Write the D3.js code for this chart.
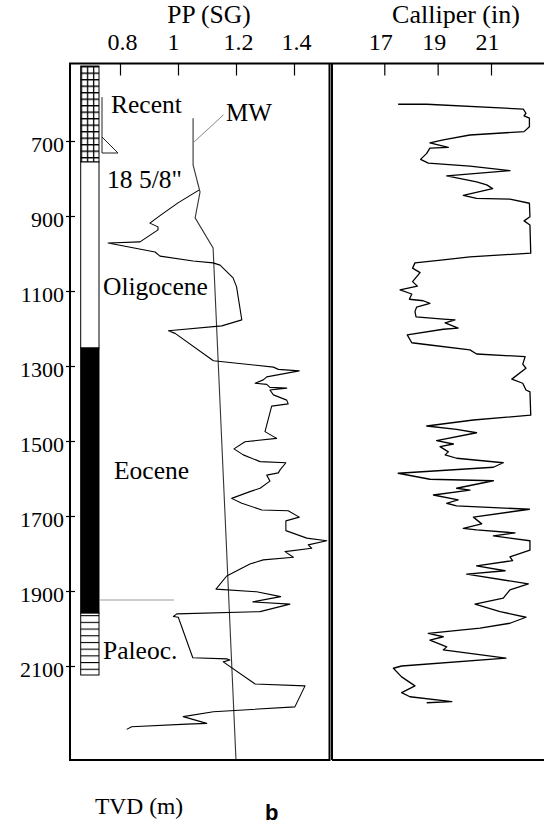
<!DOCTYPE html>
<html>
<head>
<meta charset="utf-8">
<script src="https://cdn.jsdelivr.net/npm/d3@7"></script>
<style>body{margin:0;background:#fff;}</style>
</head>
<body>
<div id="chart"></div>
<script>
// depth in m (TVD), pore pressure / mud weight in SG, calliper in inches
const depthTicks = [700, 900, 1100, 1300, 1500, 1700, 1900, 2100];
const ppTicks = [0.8, 1, 1.2, 1.4];
const calTicks = [17, 19, 21];

const formations = [
    {name: "Recent", top: 500, base: 756, lith: "grid"},
    {name: "Oligocene", top: 756, base: 1252, lith: "white"},
    {name: "Eocene", top: 1252, base: 1959, lith: "black"},
    {name: "Paleoc.", top: 1959, base: 2124, lith: "stripes"}
];

const casing = {size: "18 5/8\"", top: 583, shoe: 732};
const markerDepth = 1924;

const mudWeight = [[639,1.052],[764,1.052],[836,1.076],[905,1.059],[985,1.121],[2351,1.2]];

const porePressure = [
    [831,1.072],[865,1.000],[895,0.945],[919,0.903],[929,0.931],[937,0.931],[969,0.869],[972,0.759],
    [996,0.921],[1007,0.938],[1020,1.052],[1025,1.121],[1031,1.145],[1065,1.190],[1089,1.202],[1177,1.220],
    [1193,1.151],[1206,0.967],[1213,0.990],[1286,1.122],[1303,1.329],[1309,1.346],[1313,1.418],[1329,1.306],
    [1337,1.294],[1346,1.266],[1349,1.306],[1357,1.317],[1359,1.375],[1364,1.317],[1377,1.329],[1391,1.375],
    [1401,1.380],[1407,1.323],[1475,1.300],[1493,1.340],[1502,1.231],[1521,1.193],[1537,1.225],[1555,1.283],
    [1558,1.372],[1577,1.352],[1585,1.346],[1591,1.306],[1607,1.317],[1626,1.283],[1635,1.248],[1653,1.185],
    [1666,1.220],[1684,1.289],[1686,1.380],[1703,1.418],[1713,1.372],[1739,1.372],[1759,1.444],[1766,1.513],
    [1777,1.449],[1786,1.461],[1795,1.369],[1810,1.398],[1817,1.294],[1828,1.248],[1860,1.168],[1895,1.131],
    [1902,1.271],[1915,1.354],[1929,1.258],[1935,1.386],[1955,1.283],[1961,0.996],[1968,0.984],[1970,1.001],
    [2078,1.051],[2081,1.168],[2084,1.179],[2089,1.156],[2148,1.266],[2153,1.438],[2209,1.403],[2222,1.122],
    [2235,1.018],[2253,1.099],[2255,1.030],[2262,0.840],[2269,0.823]
];

const calliper = [
    [602,17.52],[602,18.59],[615,22.21],[626,22.31],[633,22.24],[639,22.44],[662,22.44],[675,22.24],
    [684,20.21],[697,19.21],[705,18.71],[717,19.40],[719,18.71],[733,18.59],[749,18.36],[759,18.65],
    [767,20.21],[779,21.71],[793,19.34],[809,20.46],[817,20.84],[827,21.06],[845,19.96],[853,20.46],
    [855,21.71],[866,22.44],[902,22.46],[913,22.24],[924,22.46],[999,22.49],[1009,20.21],[1017,19.21],
    [1025,18.15],[1039,18.06],[1051,18.34],[1075,18.06],[1087,18.24],[1097,17.59],[1108,18.03],[1122,17.94],
    [1126,18.46],[1133,18.71],[1143,18.21],[1155,18.15],[1169,18.19],[1175,19.21],[1177,19.65],[1185,19.28],
    [1199,19.77],[1202,19.21],[1217,17.86],[1238,18.03],[1244,18.71],[1257,20.21],[1268,20.46],[1275,22.28],
    [1295,22.19],[1306,22.31],[1335,21.78],[1346,22.19],[1364,22.31],[1369,22.46],[1431,22.49],[1444,20.34],
    [1460,18.59],[1469,19.71],[1478,20.46],[1499,18.96],[1508,19.59],[1515,19.09],[1529,19.40],[1537,19.28],
    [1546,19.71],[1558,21.46],[1570,21.09],[1586,17.52],[1602,18.71],[1606,21.09],[1626,19.71],[1631,20.21],
    [1644,18.84],[1657,19.77],[1666,19.34],[1673,19.71],[1682,22.44],[1703,20.34],[1721,20.65],[1733,19.96],
    [1737,20.46],[1745,21.90],[1753,21.09],[1766,22.46],[1791,22.46],[1809,21.71],[1819,21.81],[1833,20.46],
    [1846,21.53],[1855,20.09],[1881,22.40],[1897,21.71],[1919,21.46],[1935,20.40],[1955,21.34],[1970,22.31],
    [1986,21.71],[1999,20.59],[2013,18.65],[2022,19.21],[2031,18.71],[2049,19.34],[2057,19.21],[2079,21.56],
    [2100,17.65],[2106,17.34],[2129,17.65],[2153,18.15],[2171,17.65],[2182,17.96],[2195,19.53],[2198,18.59]
];

let x = drawLog();

function drawLog(){
    let width = 544, height = 830;
    let top = 63.5, bottom = 760;
    let leftPanel = [70, 329.5], rightPanel = [332, 546];
    let col = [80.7, 99];
    let serif = "'Liberation Serif','Times New Roman',serif";

    let y = d3.scaleLinear().domain([700, 2100]).range([141, 666]);
    let xPP = d3.scaleLinear().domain([0.8, 1.4]).range([120, 294]);
    let xCal = d3.scaleLinear().domain([17, 21]).range([384.3, 491]);

    let svg = d3.create("svg")
        .attr("width", width)
        .attr("height", height)
        .style("font-family", serif)
        .style("background", "#fff");

    // lithology fills
    let defs = svg.append("defs");
    let grid = defs.append("pattern")
        .attr("id", "grid")
        .attr("patternUnits", "userSpaceOnUse")
        .attr("x", col[0]).attr("y", y(formations[0].top))
        .attr("width", (col[1] - col[0]) / 3).attr("height", 6.5);
    grid.append("rect").attr("width", 10).attr("height", 10).attr("fill", "#fff");
    grid.append("path")
        .attr("d", `M0,0.6H10M0.6,0V10`)
        .attr("stroke", "#000").attr("stroke-width", 1.4);

    let stripes = defs.append("pattern")
        .attr("id", "stripes")
        .attr("patternUnits", "userSpaceOnUse")
        .attr("x", col[0]).attr("y", y(formations[3].top) + 2)
        .attr("width", col[1] - col[0]).attr("height", 6.7);
    stripes.append("rect").attr("width", 30).attr("height", 10).attr("fill", "#fff");
    stripes.append("path").attr("d", "M0,0.5H30").attr("stroke", "#000").attr("stroke-width", 1.2);

    let fills = {grid: "url(#grid)", white: "#fff", black: "#000", stripes: "url(#stripes)"};

    svg.append("g")
        .selectAll("rect")
        .data(formations)
        .join("rect")
            .attr("x", col[0])
            .attr("y", d => y(d.top))
            .attr("width", col[1] - col[0])
            .attr("height", d => y(d.base) - y(d.top))
            .attr("fill", d => fills[d.lith])
            .attr("stroke", "#000")
            .attr("stroke-width", 1);

    // casing shoe
    let cx = col[1] + 3;
    svg.append("path")
        .attr("d", `M${cx},${y(casing.top)}V${y(casing.shoe)}H${cx + 16}L${cx},${y(casing.shoe) - 16}`)
        .attr("fill", "none")
        .attr("stroke", "#222")
        .attr("stroke-width", 1);

    // grey marker
    svg.append("line")
        .attr("x1", col[1]).attr("x2", xPP(0.986))
        .attr("y1", y(markerDepth)).attr("y2", y(markerDepth))
        .attr("stroke", "#999").attr("stroke-width", 1);

    let line = (xs) => d3.line().x(d => xs(d[1])).y(d => y(d[0]));

    svg.append("path")
        .datum(mudWeight)
        .attr("d", line(xPP))
        .attr("fill", "none")
        .attr("stroke", "#333")
        .attr("stroke-width", 1.1);

    svg.append("path")
        .datum(porePressure)
        .attr("d", line(xPP))
        .attr("fill", "none")
        .attr("stroke", "#000")
        .attr("stroke-width", 1.1)
        .attr("stroke-linejoin", "round");

    svg.append("path")
        .datum(calliper)
        .attr("d", line(xCal))
        .attr("fill", "none")
        .attr("stroke", "#000")
        .attr("stroke-width", 1.3)
        .attr("stroke-linejoin", "round");

    // MW leader
    svg.append("line")
        .attr("x1", xPP(1.052)).attr("y1", y(705))
        .attr("x2", xPP(1.157)).attr("y2", y(630))
        .attr("stroke", "#888").attr("stroke-width", 1);

    // panel frames
    svg.append("path")
        .attr("d", `M${leftPanel[0]},${top}V${bottom}H${leftPanel[1]}V${top}M${rightPanel[0]},${bottom}V${top}`)
        .attr("fill", "none").attr("stroke", "#000").attr("stroke-width", 2);
    svg.append("path")
        .attr("d", `M${leftPanel[0] - 1},${top}H${width}M${rightPanel[0]},${bottom}H${width}`)
        .attr("fill", "none").attr("stroke", "#000").attr("stroke-width", 2);

    // depth axis
    svg.append("g")
        .attr("transform", `translate(${leftPanel[0] + 5},0)`)
        .call(d3.axisLeft(y).tickValues(depthTicks).tickSize(9).tickFormat(d3.format("d")))
        .call(g => g.select(".domain").remove())
        .call(g => g.selectAll(".tick line").attr("stroke", "#000").attr("stroke-width", 1.2))
        .call(g => g.selectAll(".tick text")
            .attr("x", -11)
            .attr("dy", "0.48em")
            .attr("text-anchor", "end")
            .attr("fill", "#000")
            .style("font-size", "22px")
            .style("font-family", serif));

    // top axes
    function topAxis(scale, ticks, dx){
        return g => g.attr("transform", `translate(0,${top})`)
            .call(d3.axisTop(scale).tickValues(ticks).tickSize(-12).tickFormat(d => d))
            .call(g => g.select(".domain").remove())
            .call(g => g.selectAll(".tick line").attr("stroke", "#000").attr("stroke-width", 1.2))
            .call(g => g.selectAll(".tick text")
                .attr("y", -14)
                .attr("dy", 0)
                .attr("x", d => Number.isInteger(d) && scale === xPP ? dx - 7 : dx)
                .attr("fill", "#000")
                .style("font-size", "24px")
                .style("font-family", serif));
    }
    svg.append("g").call(topAxis(xPP, ppTicks, 2));
    svg.append("g").call(topAxis(xCal, calTicks, -4));

    let label = (txt, x, yy, size, anchor) => svg.append("text")
        .attr("x", x).attr("y", yy)
        .attr("text-anchor", anchor || "start")
        .style("font-size", size + "px")
        .text(txt);

    label("PP (SG)", d3.mean(xPP.range()) + 2, 23, 25.5, "middle");
    label("Calliper (in)", 456, 23, 26, "middle");

    // formation names
    let nameAt = {"Recent": [111, 625], "Oligocene": [103, 1111], "Eocene": [114, 1601], "Paleoc.": [103, 2081]};
    formations.forEach(f => label(f.name, nameAt[f.name][0], y(nameAt[f.name][1]), 25.5));

    label(casing.size, 107, y(825), 25.5);
    label("MW", 226, 121, 25);

    label("TVD (m)", 95, 814, 23.5);
    svg.append("text")
        .attr("x", 265).attr("y", 820)
        .style("font-family", "'Liberation Sans',Arial,sans-serif")
        .style("font-weight", "bold")
        .style("font-size", "22px")
        .text("b");

    document.getElementById("chart").appendChild(svg.node());
    return svg;
}
</script>
</body>
</html>
